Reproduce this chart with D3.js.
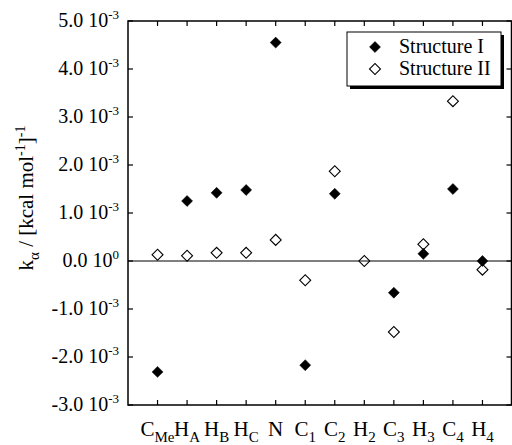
<!DOCTYPE html>
<html><head><meta charset="utf-8"><script src="https://cdn.jsdelivr.net/npm/d3@7"></script></head>
<body style="margin:0">
<svg id="c" width="512" height="445"></svg>
<script>
// atoms along the x axis (letter + subscript)
var atomBase = ['C', 'H', 'H', 'H', 'N', 'C', 'C', 'H', 'C', 'H', 'C', 'H'];
var atomSub = ['Me', 'A', 'B', 'C', '', '1', '2', '2', '3', '3', '4', '4'];

// k_alpha values, in units of 1e-3 (kcal/mol)^-1
var structureI = [-2.31, 1.25, 1.42, 1.48, 4.55, -2.17, 1.40, null, -0.66, 0.15, 1.50, 0.0];
var structureII = [0.13, 0.11, 0.17, 0.17, 0.44, -0.40, 1.87, 0.0, -1.48, 0.35, 3.33, -0.18];

var yTicks = [-3, -2, -1, 0, 1, 2, 3, 4, 5];
var yTickExp = ['-3', '-3', '-3', '0', '-3', '-3', '-3', '-3', '-3'];

var legendNames = ['Structure I', 'Structure II'];

var margin = { top: 21, right: 1, bottom: 40, left: 128 };
var width = 512, height = 445;

var svg = d3.select('#c');

function label(parent, size) {
    return parent.append('text')
        .style('font', size + 'px "Times New Roman", "Liberation Serif", serif');
}

var x = d3.scaleLinear()
    .domain([0, atomBase.length + 1])
    .range([margin.left, width]);
var y = d3.scaleLinear()
    .domain([-3, 5])
    .range([405, margin.top]);

var x0 = margin.left, x1 = 511.5, yTop = y(5), yBot = y(-3);
var idx = d3.range(1, atomBase.length + 1);

// frame
svg.append('rect')
    .attr('x', x0).attr('y', yTop)
    .attr('width', x1 - x0).attr('height', yBot - yTop)
    .attr('fill', 'none').attr('stroke', '#000').attr('stroke-width', 1.5);

// zero line
svg.append('line')
    .attr('x1', x0).attr('x2', x1)
    .attr('y1', y(0)).attr('y2', y(0))
    .attr('stroke', '#000').attr('stroke-width', 1.2);

// inward ticks, all four sides
var tk = 5;
var ticks = svg.append('g').attr('stroke', '#000').attr('stroke-width', 1.2);
yTicks.forEach(function (v) {
    ticks.append('line').attr('x1', x0).attr('x2', x0 + tk).attr('y1', y(v)).attr('y2', y(v));
    ticks.append('line').attr('x1', x1).attr('x2', x1 - tk).attr('y1', y(v)).attr('y2', y(v));
});
idx.forEach(function (i) {
    ticks.append('line').attr('x1', x(i)).attr('x2', x(i)).attr('y1', yTop).attr('y2', yTop + tk);
    ticks.append('line').attr('x1', x(i)).attr('x2', x(i)).attr('y1', yBot).attr('y2', yBot - tk);
});

// y tick labels like "5.0 10^-3"
yTicks.forEach(function (v, i) {
    var t = label(svg, 20).attr('text-anchor', 'end').attr('x', 119).attr('y', y(v) + 6);
    t.append('tspan').text(d3.format('.1f')(v).replace('−', '-') + ' 10');
    t.append('tspan').attr('dy', -8).style('font-size', '13px').text(yTickExp[i]);
});

// x labels
idx.forEach(function (i) {
    var t = label(svg, 21).attr('text-anchor', 'middle').attr('x', x(i)).attr('y', 436);
    t.append('tspan').text(atomBase[i - 1]);
    if (atomSub[i - 1]) {
        t.append('tspan').attr('dy', 6).style('font-size', '15px').text(atomSub[i - 1]);
    }
});

// y axis title
var yt = label(svg, 21)
    .attr('transform', 'translate(33,198) rotate(-90)')
    .attr('text-anchor', 'middle');
yt.append('tspan').text('k');
yt.append('tspan').attr('dy', 6).style('font-size', '15px').text('α');
yt.append('tspan').attr('dy', -6).text(' / [kcal mol');
yt.append('tspan').attr('dy', -8).style('font-size', '14px').text('-1');
yt.append('tspan').attr('dy', 8).text(']');
yt.append('tspan').attr('dy', -8).style('font-size', '14px').text('-1');

// markers
var diamond = d3.symbol().type(d3.symbolSquare).size(60);
function drawSeries(vals, filled) {
    svg.append('g').selectAll('path')
        .data(idx.filter(function (i) { return vals[i - 1] !== null; }))
        .join('path')
        .attr('d', diamond)
        .attr('transform', function (i) {
            return 'translate(' + x(i) + ',' + y(vals[i - 1]) + ') rotate(45)';
        })
        .attr('fill', filled ? '#000' : 'none')
        .attr('stroke', '#000')
        .attr('stroke-width', filled ? 0.5 : 1.1);
}
drawSeries(structureII, false);
drawSeries(structureI, true);

// legend with drop shadow
svg.append('rect').attr('x', 350).attr('y', 35).attr('width', 154).attr('height', 54).attr('fill', '#000');
svg.append('rect').attr('x', 347).attr('y', 32).attr('width', 154).attr('height', 54)
    .attr('fill', '#fff').attr('stroke', '#000').attr('stroke-width', 1);
legendNames.forEach(function (name, i) {
    var ly = 47 + i * 22;
    svg.append('path')
        .attr('d', diamond)
        .attr('transform', 'translate(375,' + ly + ') rotate(45)')
        .attr('fill', i === 0 ? '#000' : 'none')
        .attr('stroke', '#000')
        .attr('stroke-width', i === 0 ? 0.5 : 1.1);
    label(svg, 20).attr('x', 399).attr('y', ly + 6).text(name);
});
</script>
</body></html>
